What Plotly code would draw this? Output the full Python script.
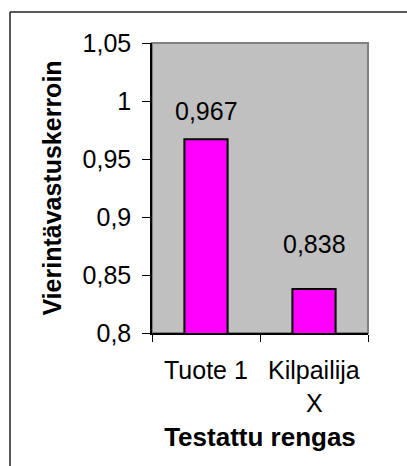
import plotly.graph_objects as go

categories = ["Tuote 1", "Kilpailija\nX"]
values = [0.967, 0.838]
value_labels = ["0,967", "0,838"]
tick_vals = [0.8, 0.85, 0.9, 0.95, 1.0, 1.05]
tick_labels = ["0,8", "0,85", "0,9", "0,95", "1", "1,05"]

label_shift = [28, 45]  # style: vertical offset of value labels (px)
FONT = "Liberation Sans, Arial, sans-serif"

W, H = 407, 466
L, R, T, B = 152, 39, 43, 133
pw, ph = W - L - R, H - T - B

fig = go.Figure()
fig.add_trace(go.Bar(
    x=categories, y=values, width=0.4,
    marker=dict(color="#FF00FF", line=dict(color="black", width=2)),
    hoverinfo="skip",
))

for c, v, t, s in zip(categories, values, value_labels, label_shift):
    fig.add_annotation(x=c, y=v, text=t, showarrow=False, yanchor="middle",
                       yshift=s, font=dict(family=FONT, size=25, color="black"))

# category labels (multi-line, wider line spacing like the reference)
for c in categories:
    for i, line in enumerate(c.split("\n")):
        fig.add_annotation(x=c, y=0, xref="x", yref="paper", text=line,
                           showarrow=False, yanchor="middle", yshift=-37 - 33 * i,
                           font=dict(family=FONT, size=25, color="black"))

# gray plot-area border
fig.add_shape(type="rect", xref="paper", yref="paper", x0=0, x1=1, y0=0, y1=1,
              line=dict(color="#808080", width=2), layer="below")
# outer chart frame (left and top edges visible; the rest runs off the picture)
def px_x(p):
    return (p - L) / pw
def px_y(p):
    return (H - B - p) / ph
fig.add_shape(type="line", xref="paper", yref="paper",
              x0=px_x(10), x1=px_x(10), y0=px_y(470), y1=px_y(12),
              line=dict(color="#222222", width=1.5), layer="above")
fig.add_shape(type="line", xref="paper", yref="paper",
              x0=px_x(10), x1=px_x(410), y0=px_y(12), y1=px_y(12),
              line=dict(color="#222222", width=1.5), layer="above")

fig.update_layout(
    width=W, height=H,
    margin=dict(l=L, r=R, t=T, b=B),
    paper_bgcolor="white", plot_bgcolor="#C0C0C0",
    showlegend=False,
    font=dict(family=FONT, color="black"),
)
fig.update_xaxes(
    type="category", showgrid=False, showline=True, linecolor="black", linewidth=1.5,
    ticks="outside", tickson="boundaries", ticklen=7, tickcolor="black", tickwidth=1,
    showticklabels=False,
    title=dict(text="<b>Testattu rengas</b>", font=dict(size=26, family=FONT), standoff=94),
)
fig.update_yaxes(
    range=[0.8, 1.05], showgrid=False, zeroline=False, showline=True, linecolor="black",
    linewidth=1.5, ticks="outside", ticklen=8, tickcolor="black", tickwidth=1,
    tickvals=tick_vals, ticktext=tick_labels, ticklabelstandoff=6,
    tickfont=dict(size=25, family=FONT, color="black"),
    title=dict(text="<b>Vierintävastuskerroin</b>", font=dict(size=25, family=FONT), standoff=14),
)

fig.write_html("out.html")
